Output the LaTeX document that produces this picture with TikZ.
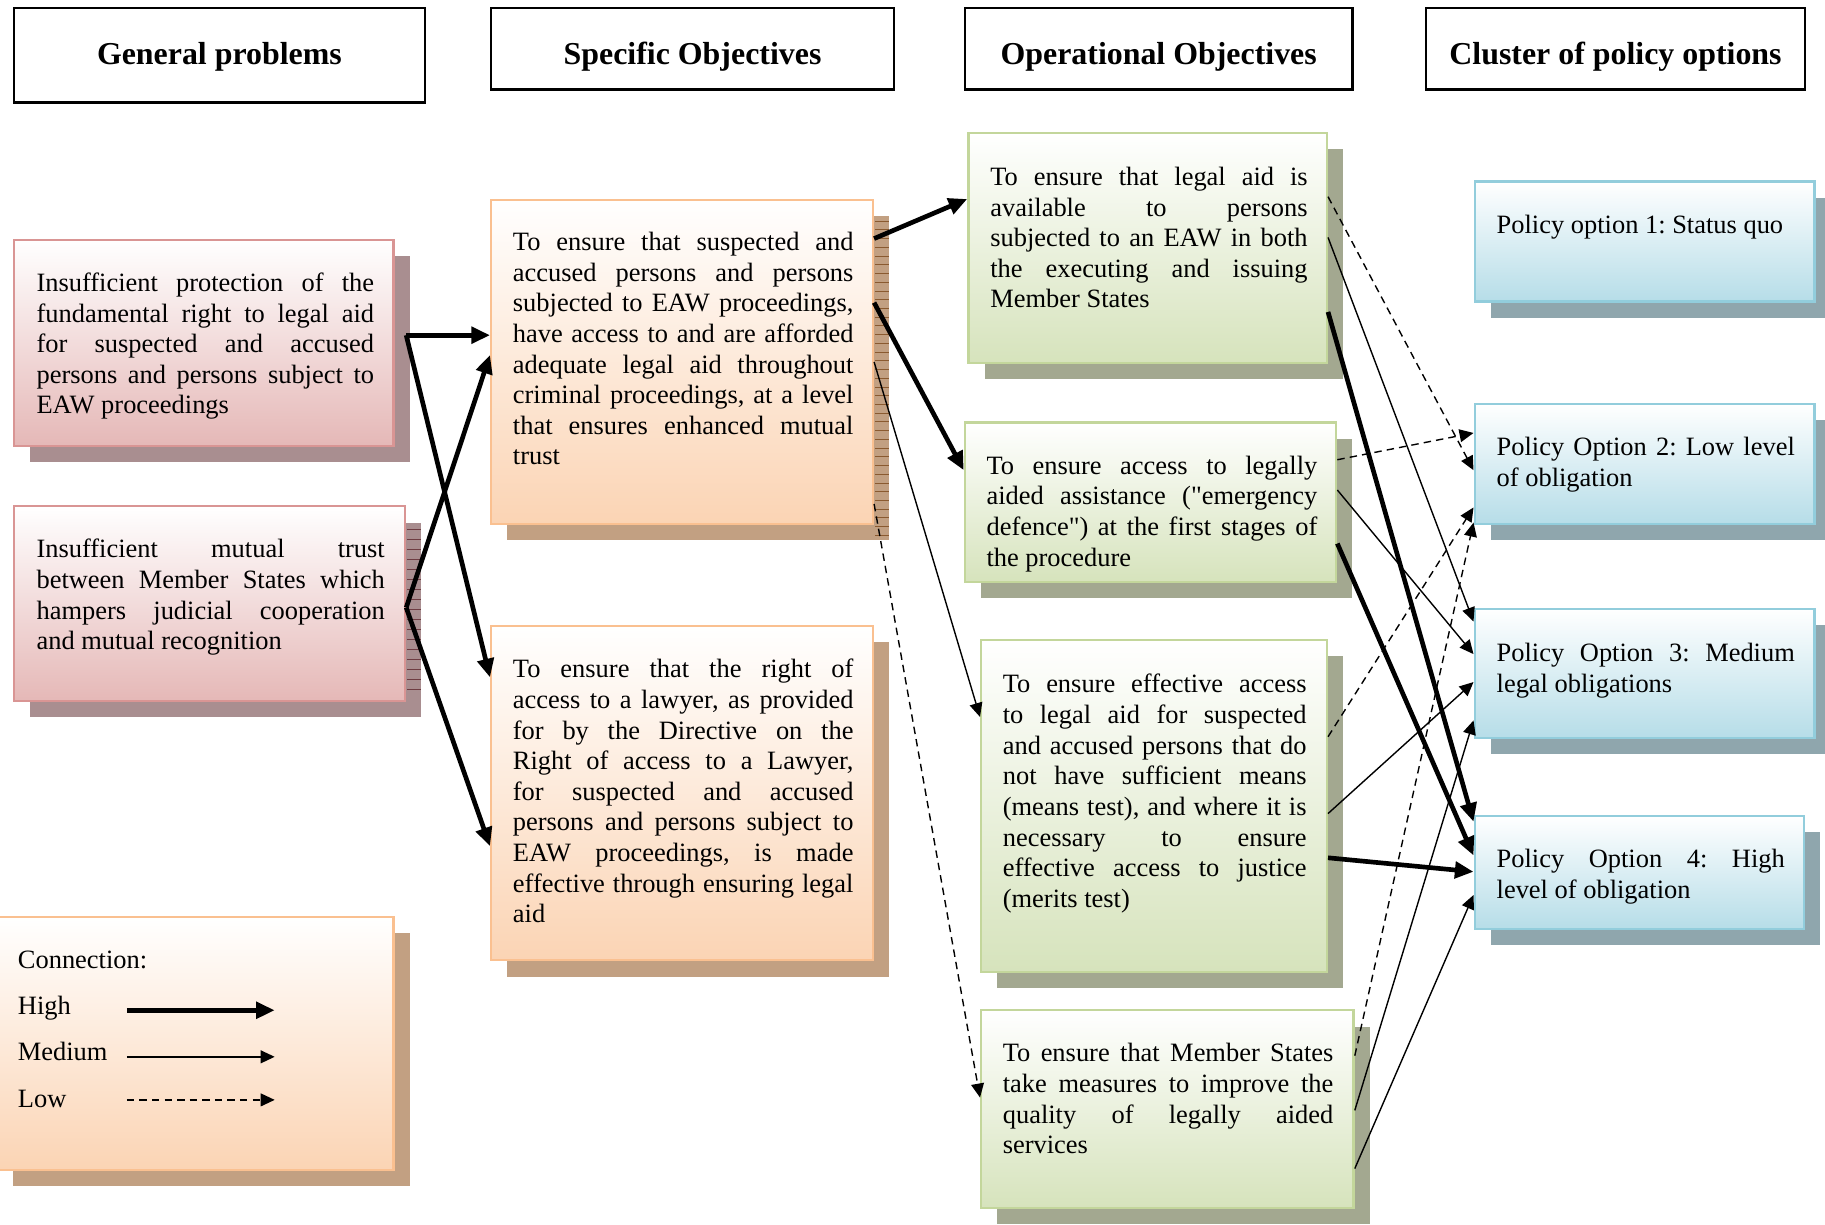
\documentclass[tikz,border=0pt]{standalone}
\usepackage{fontspec}
\setmainfont{Liberation Serif}[Ligatures=TeXOff]
\usetikzlibrary{arrows.meta,calc,fit,shadows}

\definecolor{redB}{HTML}{D99594}
\definecolor{redF}{HTML}{E5B8B7}
\definecolor{redS}{HTML}{A98E90}
\definecolor{redK}{HTML}{6E3C42}
\definecolor{orB}{HTML}{FAC090}
\definecolor{orF}{HTML}{FBD4B4}
\definecolor{orS}{HTML}{C2A082}
\definecolor{orK}{HTML}{8A5A30}
\definecolor{grB}{HTML}{C3D69B}
\definecolor{grF}{HTML}{D6E3BC}
\definecolor{grS}{HTML}{A3A890}
\definecolor{blB}{HTML}{92CDDC}
\definecolor{blF}{HTML}{B6DDE8}
\definecolor{blS}{HTML}{8FA6AD}

\newlength{\jw}
\newcommand{\nsp}{\spaceskip=0pt\xspaceskip=0pt\frenchspacing}
\newcommand{\jl}[1]{\makebox[\jw][s]{\nsp\strut #1}}
\newcommand{\jstart}[1]{\nsp\setlength{\jw}{#1}}

\tikzset{
  boxbase/.style={rectangle, inner sep=0pt, line width=1pt},
  hdr/.style={boxbase, draw=black, fill=white},
  htxt/.style={anchor=base, inner sep=0pt, font=\bfseries\fontsize{13.7}{16}\selectfont},
  redbox/.style={boxbase, draw=redB, top color=white, bottom color=redF,
    drop shadow={fill=redS, opacity=1, shadow xshift=7pt, shadow yshift=-7pt}},
  orbox/.style={boxbase, draw=orB, top color=white, bottom color=orF,
    drop shadow={fill=orS, opacity=1, shadow xshift=7pt, shadow yshift=-7pt}},
  grbox/.style={boxbase, draw=grB, top color=white, bottom color=grF,
    drop shadow={fill=grS, opacity=1, shadow xshift=7pt, shadow yshift=-7pt}},
  blbox/.style={boxbase, draw=blB, top color=white, bottom color=blF,
    drop shadow={fill=blS, opacity=1, shadow xshift=7pt, shadow yshift=-7pt}},
  txt/.style={inner sep=0pt, anchor=north west, align=left, font=\fontsize{11.36}{13.15}\selectfont},
  hi/.style={line width=2pt, -{Triangle[length=8pt,width=7pt]}},
  med/.style={line width=0.6pt, -{Triangle[length=6pt,width=5.5pt]}},
  low/.style={med, dash pattern=on 3.2pt off 2.2pt}
}

\begin{document}
\begin{tikzpicture}[x=0.5pt,y=-0.5pt]
\useasboundingbox (0,0) rectangle (1568,1052);
\clip (0,0) rectangle (1568,1052);

% headers
\node[hdr, fit={(12,7) (365,88)}] (h1) {};
\node[hdr, fit={(422,7) (768,77)}] (h2) {};
\node[hdr, fit={(829,7) (1162,77)}] (h3) {};
\node[hdr, fit={(1225,7) (1551,77)}] (h4) {};
\node[htxt] (h1t) at (188.5,55.4) {General problems};
\node[htxt] (h2t) at (595,55.4) {Specific Objectives};
\node[htxt] (h3t) at (995.5,55.4) {Operational Objectives};
\node[htxt] (h4t) at (1388,55.4) {Cluster of policy options};

% boxes
\node[redbox, fit={(12,206) (338,383)}] (r1) {};
\node[redbox, fit={(12,435) (348,602)}] (r2) {};
\node[orbox, fit={(422,172) (750,450)}] (o1) {};
\node[orbox, fit={(422,538) (750,825)}] (o2) {};
\node[orbox, fit={(-3,788) (338,1005)}] (lg) {};
\node[grbox, fit={(832,114) (1140,312)}] (g1) {};
\node[grbox, fit={(829,363) (1148,500)}] (g2) {};
\node[grbox, fit={(843,550) (1140,835)}] (g3) {};
\node[grbox, fit={(843,868) (1163,1038)}] (g4) {};
\node[blbox, fit={(1267,156) (1559,259)}] (p1) {};
\node[blbox, fit={(1267,347) (1559,450)}] (p2) {};
\node[blbox, fit={(1267,523) (1559,634)}] (p3) {};
\node[blbox, fit={(1267,701) (1550,798)}] (p4) {};

% stripes on shadows
\foreach \yy in {190,197.5,...,462} \draw[orK, line width=0.4pt] (752,\yy) -- (764,\yy);
\foreach \yy in {455,463.6,...,600} \draw[redK, line width=0.4pt] (350,\yy) -- (362,\yy);

% texts
\node[txt, text width=145pt] (r1t) at (31,231.6) {\jstart{145pt}\jl{Insufficient protection of the}\\\jl{fundamental right to legal aid}\\\jl{for suspected and accused}\\\jl{persons and persons subject to}\\\strut EAW proceedings};
\node[txt, text width=150pt] (r2t) at (31,460.6) {\jstart{149.6pt}\jl{Insufficient mutual trust}\\\jl{between Member States which}\\\jl{hampers judicial cooperation}\\\strut and mutual recognition};
\node[txt, text width=146.3pt] (o1t) at (440.3,196.6) {\jstart{146.3pt}\jl{To ensure that suspected and}\\\jl{accused persons and persons}\\\jl{subjected to EAW proceedings,}\\\jl{have access to and are afforded}\\\jl{adequate legal aid throughout}\\\jl{criminal proceedings, at a level}\\\jl{that ensures enhanced mutual}\\\strut trust};
\node[txt, text width=146.3pt] (o2t) at (440.3,563.6) {\jstart{146.3pt}\jl{To ensure that the right of}\\\jl{access to a lawyer, as provided}\\\jl{for by the Directive on the}\\\jl{Right of access to a Lawyer,}\\\jl{for suspected and accused}\\\jl{persons and persons subject to}\\\jl{EAW proceedings, is made}\\\jl{effective through ensuring legal}\\\strut aid};
\node[txt, text width=136.3pt] (g1t) at (850.5,140.6) {\jstart{136.3pt}\jl{To ensure that legal aid is}\\\jl{available to persons}\\\jl{subjected to an EAW in both}\\\jl{the executing and issuing}\\\strut Member States};
\node[txt, text width=142.1pt] (g2t) at (847.2,388.6) {\jstart{142.1pt}\jl{To ensure access to legally}\\\jl{aided assistance ("emergency}\\\jl{defence") at the first stages of}\\\strut the procedure};
\node[txt, text width=130.5pt] (g3t) at (861.2,576.6) {\jstart{130.5pt}\jl{To ensure effective access}\\\jl{to legal aid for suspected}\\\jl{and accused persons that do}\\\jl{not have sufficient means}\\\jl{(means test), and where it is}\\\jl{necessary to ensure}\\\jl{effective access to justice}\\\strut (merits test)};
\node[txt, text width=142pt] (g4t) at (861.2,893.6) {\jstart{142pt}\jl{To ensure that Member States}\\\jl{take measures to improve the}\\\jl{quality of legally aided}\\\strut services};
\node[txt] (p1t) at (1285.5,181.6) {\nsp\strut Policy option 1: Status quo};
\node[txt, text width=128.1pt] (p2t) at (1285.5,372.6) {\jstart{128.1pt}\jl{Policy Option 2: Low level}\\\strut of obligation};
\node[txt, text width=128.1pt] (p3t) at (1285.5,549.6) {\jstart{128.1pt}\jl{Policy Option 3: Medium}\\\strut legal obligations};
\node[txt, text width=123.8pt] (p4t) at (1285.5,726.6) {\jstart{123.8pt}\jl{Policy Option 4: High}\\\strut level of obligation};

% legend
\node[txt] (lc) at (15,813.6) {\strut Connection:};
\node[txt] (lh) at (15,852.6) {\strut High};
\node[txt] (lm) at (15,892.6) {\strut Medium};
\node[txt] (ll) at (15,932.6) {\strut Low};
\coordinate (hiA) at (109,868); \coordinate (hiB) at (236,868);
\coordinate (mdA) at (109,908); \coordinate (mdB) at (236,908);
\coordinate (lwA) at (109,945); \coordinate (lwB) at (236,945);
\draw[hi] (hiA) -- (hiB);
\draw[med] (mdA) -- (mdB);
\draw[low] (lwA) -- (lwB);

% high connections
\draw[hi] ($(r1.north east)+(10,83)$) -- ($(o1.north west)+(0,117)$);
\draw[hi] ($(r1.north east)+(10,83)$) -- ($(o2.north west)+(0,45)$);
\draw[hi] ($(r2.north east)+(0,88)$) -- ($(o1.north west)+(0,134)$);
\draw[hi] ($(r2.north east)+(0,88)$) -- ($(o2.north west)+(0,190)$);
\draw[hi] ($(o1.north east)+(0,34)$) -- ($(g1.north west)+(0,58)$);
\draw[hi] ($(o1.north east)+(0,89)$) -- ($(g2.north west)+(0,42)$);
\draw[hi] ($(g1.north east)+(0,155)$) -- ($(p4.north west)+(0,6)$);
\draw[hi] ($(g2.north east)+(0,105)$) -- ($(p4.north west)+(0,35)$);
\draw[hi] ($(g3.north east)+(0,188)$) -- ($(p4.north west)+(0,49)$);

% medium connections
\draw[med] ($(o1.north east)+(0,140)$) -- ($(g3.north west)+(0,67)$);
\draw[med] ($(g1.north east)+(0,91)$) -- ($(p3.north west)+(0,12)$);
\draw[med] ($(g2.north east)+(0,59)$) -- ($(p3.north west)+(0,40)$);
\draw[med] ($(g3.north east)+(0,150)$) -- ($(p3.north west)+(0,64)$);
\draw[med] ($(g4.north east)+(0,87)$) -- ($(p3.north west)+(0,97)$);
\draw[med] ($(g4.north east)+(0,137)$) -- ($(p4.north west)+(0,69)$);

% low connections
\draw[low] ($(o1.north east)+(0,262)$) -- ($(g4.north west)+(0,76)$);
\draw[low] ($(g1.north east)+(0,56)$) -- ($(p2.north west)+(0,58)$);
\draw[low] ($(g2.north east)+(0,33)$) -- ($(p2.north west)+(0,26)$);
\draw[low] ($(g3.north east)+(0,84)$) -- ($(p2.north west)+(0,90)$);
\draw[low] ($(g4.north east)+(0,40)$) -- ($(p2.north west)+(0,103)$);
\end{tikzpicture}
\end{document}
